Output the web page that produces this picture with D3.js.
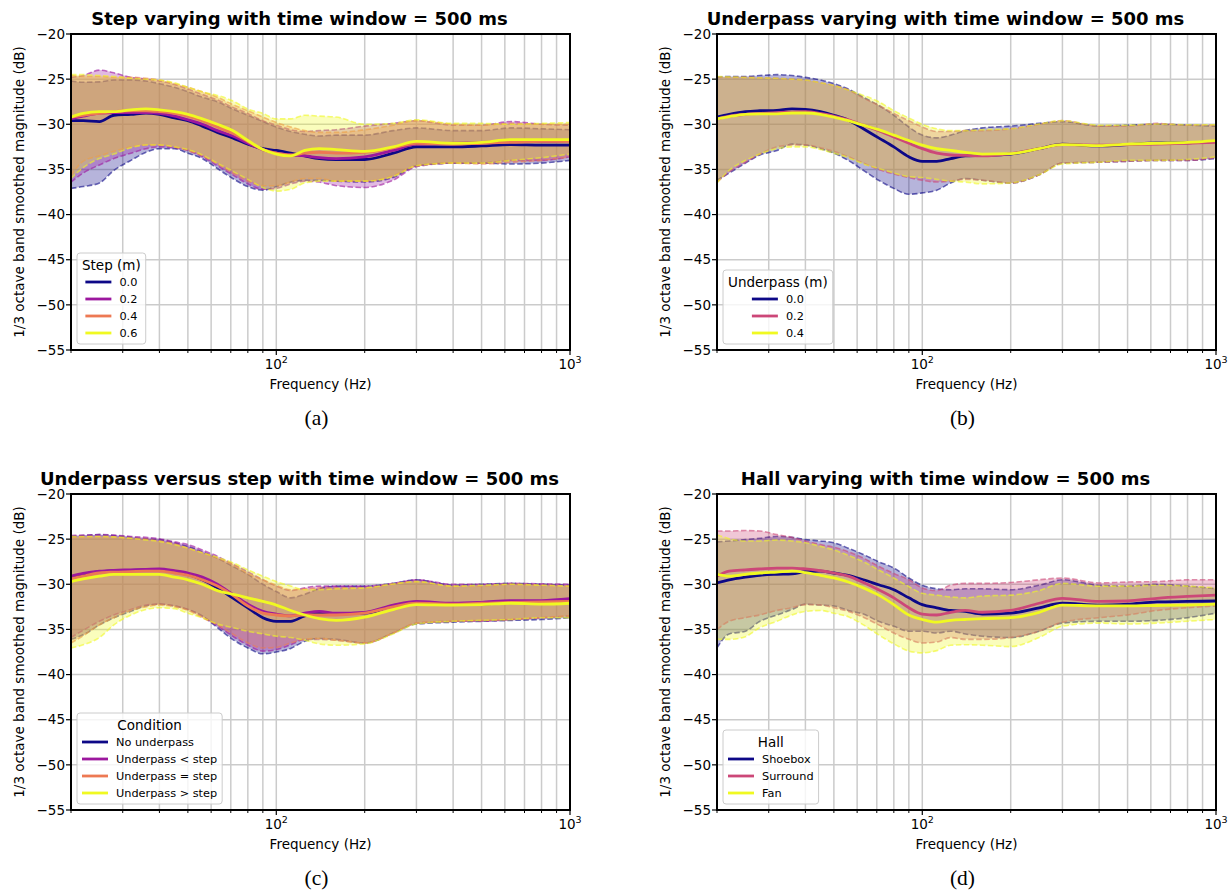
<!DOCTYPE html>
<html>
<head>
<meta charset="utf-8">
<script src="https://cdn.jsdelivr.net/npm/d3@7"></script>
<style>
  body { margin: 0; background: #fff; overflow: hidden; }
  svg { display: block; font-family: "DejaVu Sans", sans-serif; }
</style>
</head>
<body>
<svg id="chart" width="1229" height="890"></svg>
<script>
// frequencies (Hz) where the curves were read
var freqs = [20, 22, 25, 28, 32, 36, 40, 45, 50, 56, 63, 71, 80, 90, 100, 112, 125, 140, 160, 200, 250, 300, 400, 500, 630, 800, 1000];

var yTicks = [-20, -25, -30, -35, -40, -45, -50, -55];
var xMajor = [100, 1000];
var xMinor = [20, 30, 40, 50, 60, 70, 80, 90, 200, 300, 400, 500, 600, 700, 800, 900];

// (a) step varying
var stepNames = ["0.0", "0.2", "0.4", "0.6"];
var step00Mean = [-29.6, -29.6, -29.7, -29.0, -28.9, -28.75, -28.9, -29.3, -29.6, -30.2, -30.9, -31.5, -32.2, -32.7, -32.9, -33.2, -33.5, -33.8, -33.9, -33.9, -33.2, -32.5, -32.5, -32.4, -32.25, -32.3, -32.3];
var step00Upper = [-25.2, -25.35, -25.3, -25.1, -25.1, -25.2, -25.5, -25.9, -26.4, -27.0, -27.5, -28.3, -29.0, -29.7, -30.3, -30.8, -31.1, -31.3, -31.2, -31.2, -30.7, -30.4, -30.7, -30.7, -30.4, -30.5, -30.6];
var step00Lower = [-37.1, -36.9, -36.5, -35.1, -34.0, -33.1, -32.7, -32.7, -33.2, -33.8, -34.9, -36.0, -36.9, -37.3, -36.9, -36.4, -36.2, -36.2, -36.3, -36.4, -35.9, -34.6, -34.3, -34.3, -34.4, -34.3, -34.0];
var step02Mean = [-29.4, -29.1, -28.75, -28.7, -28.7, -28.7, -28.8, -29.1, -29.5, -30.0, -30.7, -31.3, -32.1, -32.8, -33.2, -33.4, -33.5, -33.7, -33.8, -33.6, -32.9, -32.2, -32.1, -32.0, -31.9, -31.9, -31.8];
var step02Upper = [-24.8, -24.6, -24.0, -24.3, -24.8, -25.0, -25.2, -25.6, -26.1, -26.7, -27.3, -28.1, -28.8, -29.6, -30.1, -30.6, -30.8, -30.7, -30.6, -30.2, -29.9, -29.6, -30.1, -30.1, -29.7, -30.0, -30.1];
var step02Lower = [-36.4, -35.4, -34.5, -33.8, -33.2, -32.7, -32.5, -32.6, -32.9, -33.6, -34.6, -35.6, -36.6, -37.2, -37.1, -36.6, -36.3, -36.4, -36.8, -37.0, -36.2, -34.7, -34.3, -34.3, -34.0, -34.0, -33.6];
var step04Mean = [-29.2, -29.0, -28.8, -28.6, -28.5, -28.5, -28.6, -28.8, -29.1, -29.6, -30.3, -31.0, -31.9, -32.8, -33.2, -33.4, -33.2, -33.1, -33.2, -33.1, -32.6, -32.1, -32.2, -32.1, -32.0, -31.9, -31.9];
var step04Upper = [-24.6, -24.7, -24.7, -24.8, -24.8, -24.9, -25.1, -25.5, -25.9, -26.4, -27.0, -27.8, -28.5, -29.2, -29.8, -30.3, -30.7, -30.9, -30.9, -30.6, -30.1, -29.6, -30.0, -30.1, -29.9, -30.0, -30.0];
var step04Lower = [-35.7, -34.1, -33.5, -33.0, -32.5, -32.3, -32.3, -32.5, -32.9, -33.5, -34.4, -35.4, -36.3, -36.8, -36.8, -36.4, -36.0, -36.0, -36.3, -36.3, -35.7, -34.6, -34.3, -34.4, -34.2, -34.0, -33.6];
var step06Mean = [-29.2, -28.8, -28.6, -28.6, -28.4, -28.3, -28.4, -28.6, -28.9, -29.4, -30.0, -30.7, -31.8, -32.8, -33.3, -33.5, -32.9, -32.7, -32.8, -33.0, -32.5, -31.9, -32.1, -32.0, -31.7, -31.7, -31.7];
var step06Upper = [-24.5, -24.5, -24.6, -24.7, -24.9, -25.0, -25.1, -25.4, -25.9, -26.4, -26.8, -27.4, -28.3, -28.8, -29.4, -29.4, -29.0, -29.1, -29.2, -30.0, -29.9, -29.5, -29.9, -29.9, -30.0, -29.9, -29.8];
var step06Lower = [-36.0, -34.8, -33.8, -33.3, -32.6, -32.3, -32.3, -32.5, -32.8, -33.4, -34.3, -35.2, -36.1, -37.0, -37.4, -37.2, -36.5, -36.3, -36.3, -36.3, -35.8, -34.6, -34.3, -34.3, -34.0, -33.7, -33.3];

// (b) underpass varying
var underNames = ["0.0", "0.2", "0.4"];
var under00Mean = [-29.2, -28.9, -28.6, -28.5, -28.45, -28.3, -28.35, -28.6, -29.0, -29.55, -30.5, -31.5, -32.5, -33.6, -34.1, -34.1, -33.8, -33.5, -33.45, -33.3, -32.7, -32.2, -32.4, -32.25, -32.05, -32.05, -31.9];
var under00Upper = [-24.8, -24.7, -24.7, -24.6, -24.5, -24.6, -24.8, -25.1, -25.5, -26.1, -27.0, -27.9, -29.0, -30.3, -31.2, -31.5, -31.2, -30.7, -30.4, -30.2, -29.9, -29.7, -30.2, -30.1, -30.0, -30.1, -30.2];
var under00Lower = [-36.2, -35.4, -34.3, -33.4, -32.9, -32.2, -32.3, -32.7, -33.2, -34.0, -35.1, -36.2, -37.1, -37.75, -37.6, -37.3, -36.5, -36.0, -36.2, -36.5, -35.6, -34.3, -34.2, -34.1, -34.0, -34.0, -33.8];
var under02Mean = [-29.4, -29.1, -28.9, -28.8, -28.7, -28.65, -28.6, -28.8, -29.1, -29.5, -30.1, -30.7, -31.4, -32.1, -32.7, -33.2, -33.4, -33.45, -33.5, -33.25, -32.7, -32.25, -32.3, -32.25, -32.2, -32.1, -32.0];
var under02Upper = [-24.8, -24.8, -24.8, -24.85, -24.9, -25.0, -25.1, -25.4, -25.7, -26.2, -27.1, -27.9, -28.8, -29.6, -30.3, -30.8, -30.8, -30.7, -30.7, -30.5, -30.0, -29.6, -30.2, -30.2, -29.9, -30.1, -30.1];
var under02Lower = [-36.4, -35.3, -34.2, -33.3, -32.5, -32.3, -32.3, -32.6, -33.0, -33.6, -34.3, -35.0, -35.5, -35.9, -36.2, -36.4, -36.3, -36.1, -36.2, -36.5, -35.6, -34.3, -34.2, -34.1, -34.0, -34.0, -33.7];
var under04Mean = [-29.4, -29.15, -28.9, -28.85, -28.85, -28.75, -28.75, -28.9, -29.2, -29.6, -30.1, -30.6, -31.2, -31.8, -32.3, -32.7, -32.9, -33.1, -33.3, -33.25, -32.7, -32.25, -32.36, -32.2, -32.1, -32.0, -31.8];
var under04Upper = [-24.7, -24.75, -24.8, -24.85, -24.9, -25.0, -25.1, -25.4, -25.7, -26.2, -26.8, -27.5, -28.5, -29.3, -30.0, -30.5, -30.7, -30.7, -30.6, -30.5, -29.96, -29.6, -30.1, -30.1, -29.96, -30.05, -30.05];
var under04Lower = [-36.5, -35.1, -34.0, -33.3, -32.7, -32.5, -32.5, -32.8, -33.2, -33.7, -34.4, -34.9, -35.4, -35.8, -35.9, -36.1, -36.3, -36.4, -36.6, -36.5, -35.6, -34.4, -34.2, -34.0, -34.0, -33.9, -33.6];

// (c) underpass versus step
var condNames = ["No underpass", "Underpass < step", "Underpass = step", "Underpass > step"];
var noUnderMean = [-29.2, -28.9, -28.6, -28.5, -28.45, -28.4, -28.4, -28.6, -28.9, -29.5, -30.4, -31.5, -32.6, -33.7, -34.1, -34.1, -33.5, -33.2, -33.25, -33.2, -32.4, -32.1, -32.25, -32.2, -32.0, -31.95, -31.9];
var noUnderUpper = [-24.7, -24.6, -24.5, -24.6, -24.8, -24.95, -25.05, -25.4, -25.8, -26.4, -27.1, -28.0, -28.9, -30.0, -30.8, -31.5, -31.1, -30.5, -30.2, -30.2, -29.9, -29.5, -30.1, -30.0, -29.9, -30.0, -30.1];
var noUnderLower = [-36.1, -35.6, -34.5, -33.7, -33.0, -32.4, -32.2, -32.4, -32.8, -33.5, -34.8, -36.1, -37.05, -37.7, -37.5, -37.1, -36.3, -36.0, -36.1, -36.5, -35.4, -34.4, -34.2, -34.1, -34.0, -33.9, -33.7];
var underLessMean = [-29.1, -28.8, -28.55, -28.45, -28.4, -28.35, -28.3, -28.5, -28.75, -29.2, -30.0, -31.1, -32.2, -33.0, -33.3, -33.5, -33.2, -33.0, -33.2, -33.1, -32.3, -31.9, -32.1, -32.0, -31.8, -31.8, -31.6];
var underLessUpper = [-24.6, -24.55, -24.5, -24.55, -24.7, -24.8, -24.95, -25.3, -25.6, -26.2, -26.9, -27.75, -28.6, -29.5, -30.2, -30.7, -30.4, -30.2, -30.2, -30.2, -29.9, -29.5, -30.0, -30.0, -29.9, -29.95, -30.0];
var underLessLower = [-35.9, -35.1, -34.1, -33.4, -32.8, -32.3, -32.2, -32.4, -32.8, -33.6, -34.6, -35.75, -36.75, -37.4, -37.25, -36.7, -36.1, -36.1, -36.2, -36.5, -35.4, -34.3, -34.1, -34.1, -33.9, -33.7, -33.5];
var underEqMean = [-29.4, -29.1, -28.75, -28.65, -28.6, -28.55, -28.55, -28.75, -29.0, -29.5, -30.2, -31.2, -32.4, -33.2, -33.4, -33.5, -33.4, -33.4, -33.4, -33.2, -32.5, -32.1, -32.2, -32.1, -32.0, -31.95, -31.9];
var underEqUpper = [-24.8, -24.75, -24.7, -24.75, -24.9, -25.0, -25.2, -25.5, -26.0, -26.5, -27.1, -27.8, -28.8, -29.5, -30.1, -30.6, -30.5, -30.4, -30.4, -30.4, -29.96, -29.7, -30.2, -30.2, -30.0, -30.1, -30.2];
var underEqLower = [-36.5, -35.7, -34.5, -33.7, -32.9, -32.5, -32.3, -32.5, -32.9, -33.7, -34.5, -35.5, -36.5, -37.05, -37.0, -36.5, -36.1, -36.0, -36.2, -36.5, -35.4, -34.3, -34.1, -34.0, -33.9, -33.7, -33.5];
var underMoreMean = [-29.7, -29.4, -29.1, -28.9, -28.9, -28.9, -28.9, -29.2, -29.5, -30.0, -30.7, -31.1, -31.5, -31.9, -32.3, -32.9, -33.4, -33.8, -34.0, -33.65, -32.8, -32.25, -32.3, -32.25, -32.1, -32.2, -32.1];
var underMoreUpper = [-24.7, -24.7, -24.7, -24.75, -24.9, -25.1, -25.25, -25.6, -26.0, -26.5, -27.0, -27.6, -28.4, -29.1, -29.7, -30.2, -30.6, -30.6, -30.5, -30.4, -29.96, -29.7, -30.2, -30.1, -30.0, -30.1, -30.2];
var underMoreLower = [-37.05, -36.7, -35.9, -34.5, -33.4, -32.8, -32.6, -32.7, -33.2, -33.7, -34.4, -34.8, -35.2, -35.5, -35.75, -35.9, -36.2, -36.6, -36.75, -36.6, -35.5, -34.4, -34.1, -34.0, -33.9, -33.7, -33.7];

// (d) hall varying
var hallNames = ["Shoebox", "Surround", "Fan"];
var shoeboxMean = [-29.85, -29.5, -29.2, -29.0, -28.9, -28.85, -28.6, -28.55, -28.75, -29.0, -29.5, -30.05, -30.6, -31.5, -32.25, -32.6, -32.9, -33.0, -33.3, -33.2, -32.6, -32.1, -32.3, -32.2, -31.95, -31.9, -31.85];
var shoeboxUpper = [-25.3, -25.2, -25.05, -24.9, -24.7, -24.8, -25.05, -25.2, -25.4, -26.0, -26.7, -27.5, -28.2, -29.3, -30.1, -30.5, -30.6, -30.5, -30.5, -30.6, -30.1, -29.5, -30.1, -30.2, -30.0, -30.2, -30.5];
var shoeboxLower = [-37.05, -35.5, -35.2, -34.1, -33.4, -32.8, -32.2, -32.3, -32.4, -32.9, -33.3, -34.1, -34.65, -35.2, -35.2, -35.4, -35.2, -35.5, -35.75, -35.9, -35.2, -34.3, -34.1, -34.1, -34.0, -33.7, -33.2];
var surroundMean = [-29.1, -28.55, -28.4, -28.3, -28.2, -28.2, -28.3, -28.5, -28.75, -29.1, -29.8, -30.6, -31.5, -32.6, -33.3, -33.4, -33.1, -32.9, -33.1, -32.9, -32.1, -31.55, -31.9, -31.85, -31.55, -31.35, -31.2];
var surroundUpper = [-24.1, -24.1, -24.05, -24.1, -24.5, -24.8, -25.2, -25.6, -25.9, -26.4, -27.1, -28.0, -28.8, -29.5, -30.4, -30.7, -30.1, -29.9, -29.9, -29.8, -29.5, -29.3, -29.85, -29.75, -29.7, -29.5, -29.5];
var surroundLower = [-35.0, -34.1, -33.7, -33.4, -32.9, -32.6, -32.25, -32.3, -32.6, -33.0, -33.65, -34.5, -35.4, -36.1, -36.5, -36.4, -35.9, -36.1, -36.1, -35.9, -35.2, -34.2, -33.7, -33.4, -32.9, -32.6, -32.4];
var fanMean = [-28.9, -29.1, -28.9, -28.75, -28.65, -28.55, -28.7, -29.0, -29.3, -29.75, -30.4, -31.2, -32.25, -33.4, -33.9, -34.2, -34.0, -33.9, -33.8, -33.7, -33.1, -32.3, -32.4, -32.4, -32.35, -32.3, -32.2];
var fanUpper = [-24.5, -24.95, -25.2, -25.2, -25.1, -25.2, -25.4, -25.8, -26.2, -26.8, -27.5, -28.4, -29.3, -30.25, -31.0, -31.2, -31.4, -31.5, -31.3, -31.2, -30.7, -29.9, -30.2, -30.2, -30.1, -30.2, -30.4];
var fanLower = [-36.1, -36.1, -35.8, -34.8, -34.1, -33.4, -33.0, -32.9, -33.2, -33.6, -34.5, -35.6, -36.6, -37.4, -37.6, -37.35, -36.75, -36.7, -36.75, -36.9, -35.9, -34.65, -34.3, -34.4, -34.3, -34.1, -33.9];

// plasma colours
var plasma4 = ["#0d0887", "#9c179e", "#ed7953", "#f0f921"];
var plasma3 = ["#0d0887", "#cc4778", "#f0f921"];

var svg = d3.select("#chart");
var W = 499, H = 316;

var panels = [
  { left: 71, top: 34, caption: "(a)", title: "Step varying with time window = 500 ms", legendTitle: "Step (m)",
    names: stepNames, colors: plasma4,
    series: [[step00Mean, step00Upper, step00Lower], [step02Mean, step02Upper, step02Lower],
             [step04Mean, step04Upper, step04Lower], [step06Mean, step06Upper, step06Lower]] },
  { left: 717, top: 34, caption: "(b)", title: "Underpass varying with time window = 500 ms", legendTitle: "Underpass (m)",
    names: underNames, colors: plasma3,
    series: [[under00Mean, under00Upper, under00Lower], [under02Mean, under02Upper, under02Lower],
             [under04Mean, under04Upper, under04Lower]] },
  { left: 71, top: 494, caption: "(c)", title: "Underpass versus step with time window = 500 ms", legendTitle: "Condition",
    names: condNames, colors: plasma4,
    series: [[noUnderMean, noUnderUpper, noUnderLower], [underLessMean, underLessUpper, underLessLower],
             [underEqMean, underEqUpper, underEqLower], [underMoreMean, underMoreUpper, underMoreLower]] },
  { left: 717, top: 494, caption: "(d)", title: "Hall varying with time window = 500 ms", legendTitle: "Hall",
    names: hallNames, colors: plasma3,
    series: [[shoeboxMean, shoeboxUpper, shoeboxLower], [surroundMean, surroundUpper, surroundLower],
             [fanMean, fanUpper, fanLower]] }
];

panels.forEach(function(p, pi) { drawPanel(p, pi); });

function drawPanel(p, pi) {
  var g = svg.append("g").attr("transform", "translate(" + p.left + "," + p.top + ")");

  var x = d3.scaleLog().domain([20, 1000]).range([0, W]);
  var y = d3.scaleLinear().domain([-55, -20]).range([H, 0]);

  g.append("clipPath").attr("id", "clip" + pi)
    .append("rect").attr("width", W).attr("height", H);

  // grid
  var grid = g.append("g").attr("stroke", "#cbcbcb").attr("stroke-width", 1.5);
  grid.selectAll(".gx").data(xMinor.concat(xMajor)).enter().append("line")
    .attr("x1", function(d) { return x(d); }).attr("x2", function(d) { return x(d); })
    .attr("y1", 0).attr("y2", H);
  grid.selectAll(".gy").data(yTicks).enter().append("line")
    .attr("x1", 0).attr("x2", W)
    .attr("y1", function(d) { return y(d); }).attr("y2", function(d) { return y(d); });

  var plot = g.append("g").attr("clip-path", "url(#clip" + pi + ")");

  // rows per series
  var rows = p.series.map(function(s) {
    return freqs.map(function(f, i) { return { f: f, mean: s[0][i], up: s[1][i], lo: s[2][i] }; });
  });

  var area = d3.area().curve(d3.curveMonotoneX)
    .x(function(d) { return x(d.f); })
    .y0(function(d) { return y(d.lo); })
    .y1(function(d) { return y(d.up); });
  var lineOf = function(key) {
    return d3.line().curve(d3.curveMonotoneX)
      .x(function(d) { return x(d.f); })
      .y(function(d) { return y(d[key]); });
  };

  rows.forEach(function(r, i) {
    plot.append("path").datum(r).attr("d", area)
      .attr("fill", p.colors[i]).attr("fill-opacity", 0.3);
    ["up", "lo"].forEach(function(k) {
      plot.append("path").datum(r).attr("d", lineOf(k))
        .attr("fill", "none").attr("stroke", p.colors[i])
        .attr("stroke-opacity", 0.6).attr("stroke-width", 1.6)
        .attr("stroke-dasharray", "5.5,2.5");
    });
  });
  rows.forEach(function(r, i) {
    plot.append("path").datum(r).attr("d", lineOf("mean"))
      .attr("fill", "none").attr("stroke", p.colors[i]).attr("stroke-width", 2.8);
  });

  // spines
  g.append("rect").attr("width", W).attr("height", H)
    .attr("fill", "none").attr("stroke", "#000").attr("stroke-width", 2);

  // y ticks
  var yt = g.append("g").selectAll("g").data(yTicks).enter().append("g")
    .attr("transform", function(d) { return "translate(0," + y(d) + ")"; });
  yt.append("line").attr("x1", -5).attr("x2", 0).attr("stroke", "#000").attr("stroke-width", 1.2);
  yt.append("text").attr("x", -6).attr("dy", "0.35em").attr("text-anchor", "end")
    .attr("font-size", 13.5).attr("fill", "#000")
    .text(function(d) { return "\u2212" + Math.abs(d); });

  // x ticks
  g.append("g").selectAll("line").data(xMinor).enter().append("line")
    .attr("x1", function(d) { return x(d); }).attr("x2", function(d) { return x(d); })
    .attr("y1", H).attr("y2", H + 3).attr("stroke", "#000").attr("stroke-width", 1);
  var xt = g.append("g").selectAll("g").data(xMajor).enter().append("g")
    .attr("transform", function(d) { return "translate(" + x(d) + "," + H + ")"; });
  xt.append("line").attr("y2", 5).attr("stroke", "#000").attr("stroke-width", 1.2);
  var xl = xt.append("text").attr("y", 19).attr("text-anchor", "middle")
    .attr("font-size", 13.5).attr("fill", "#000");
  xl.append("tspan").text("10");
  xl.append("tspan").attr("dy", -6).attr("font-size", 9.5)
    .text(function(d) { return d === 100 ? "2" : "3"; });

  // axis labels
  g.append("text").attr("x", W / 2).attr("y", H + 39).attr("text-anchor", "middle")
    .attr("font-size", 13.5).text("Frequency (Hz)");
  g.append("text").attr("transform", "translate(-47," + (H / 2) + ") rotate(-90)")
    .attr("text-anchor", "middle").attr("font-size", 13.5)
    .text("1/3 octave band smoothed magnitude (dB)");

  // title
  g.append("text").attr("x", W / 2 - 21).attr("y", -9).attr("text-anchor", "middle")
    .attr("font-size", 18).attr("font-weight", "bold").text(p.title);

  // caption
  g.append("text").attr("x", W / 2 - 4).attr("y", H + 75).attr("text-anchor", "middle")
    .attr("font-family", "'Liberation Serif', serif").attr("font-size", 21.5).text(p.caption);

  // legend, lower left
  var n = p.names.length;
  var pad = 5, lineW = 26, gap = 8, rowH = 17;
  var boxH = 17 + 12 + (n - 1) * rowH + 11;
  var leg = g.append("g").attr("transform", "translate(6," + (H - 6 - boxH) + ")");
  var box = leg.append("rect").attr("rx", 3).attr("height", boxH)
    .attr("fill", "#fff").attr("fill-opacity", 0.8).attr("stroke", "#cccccc").attr("stroke-width", 1);
  var tt = leg.append("text").attr("y", 17).attr("text-anchor", "middle")
    .attr("font-size", 13.5).text(p.legendTitle);
  var items = leg.selectAll(".item").data(p.names).enter().append("g")
    .attr("transform", function(d, i) { return "translate(0," + (29 + i * rowH) + ")"; });
  var labels = items.append("text").attr("dy", "0.35em").attr("font-size", 11.3).text(function(d) { return d; });
  var maxText = d3.max(labels.nodes(), function(nd) { return nd.getComputedTextLength(); });
  var titleW = tt.node().getComputedTextLength();
  var blockW = lineW + gap + maxText;
  var contentW = Math.max(titleW, blockW);
  var off = pad + (contentW - blockW) / 2;
  box.attr("width", contentW + 2 * pad);
  tt.attr("x", pad + contentW / 2);
  items.append("line").attr("x1", off).attr("x2", off + lineW)
    .attr("stroke", function(d, i) { return p.colors[i]; }).attr("stroke-width", 2.8);
  labels.attr("x", off + lineW + gap);
}
</script>
</body>
</html>
